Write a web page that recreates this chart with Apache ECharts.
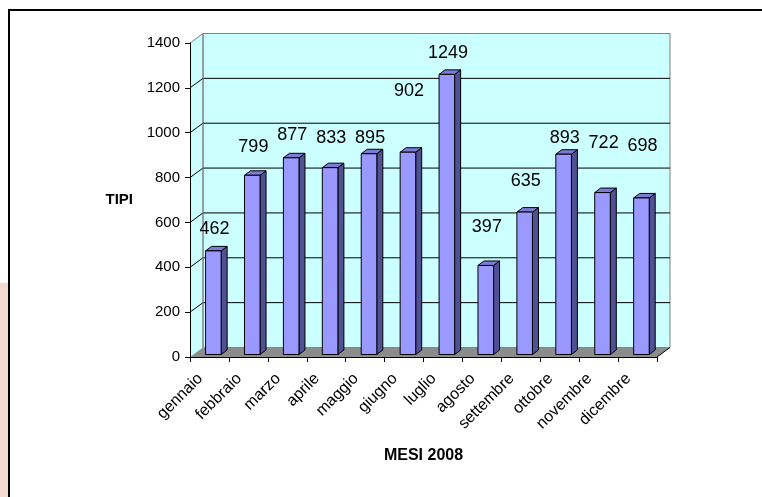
<!DOCTYPE html>
<html><head><meta charset="utf-8">
<script src="https://cdn.jsdelivr.net/npm/echarts@6/dist/echarts.min.js"></script>
<style>html,body{margin:0;padding:0;background:#fff;}#c{width:762px;height:497px;}</style>
</head><body>
<div id="c"></div>
<script>
const months = ['gennaio','febbraio','marzo','aprile','maggio','giugno','luglio','agosto','settembre','ottobre','novembre','dicembre'];
const values = [462,799,877,833,895,902,1249,397,635,893,722,698];
const yTicks = [0,200,400,600,800,1000,1200,1400];
const labelLift = [22,28,23,30,16,61,21,38,31,16,50,52];

const FONT = "'Liberation Sans', Arial, sans-serif";
const DX = 13, DY = -9.5;

const chart = echarts.init(document.getElementById('c'), null, {renderer:'canvas'});

function wallsItem(params, api){
  const cs = params.coordSys;
  const x0 = cs.x, y0 = cs.y, w = cs.width, h = cs.height;
  const ch = [];
  ch.push({type:'polygon', shape:{points:[[x0,y0+h],[x0,y0],[x0+DX,y0+DY],[x0+DX,y0+h+DY]]}, style:{fill:'#ccffff', stroke:null}});
  ch.push({type:'rect', shape:{x:x0+DX,y:y0+DY,width:w,height:h}, style:{fill:'#ccffff', stroke:'#808080', lineWidth:1}});
  yTicks.forEach(v=>{
    if (v===yTicks[0]) return;
    const y = api.coord([0,v])[1];
    const last = v===yTicks[yTicks.length-1];
    ch.push({type:'polyline', shape:{points:[[x0,y],[x0+DX,y+DY],[x0+DX+w,y+DY]]}, style:{stroke: last ? '#808080' : '#000', lineWidth:1, fill:null}});
  });
  ch.push({type:'line', shape:{x1:x0+DX,y1:y0+DY,x2:x0+DX,y2:y0+h+DY}, style:{stroke:'#808080', lineWidth:1}});
  ch.push({type:'polygon', shape:{points:[[x0,y0+h],[x0+DX,y0+h+DY],[x0+DX+w,y0+h+DY],[x0+w,y0+h]]}, style:{fill:'#8c8c8c', stroke:null}});
  ch.push({type:'line', shape:{x1:x0+w,y1:y0+h,x2:x0+w+DX,y2:y0+h+DY}, style:{stroke:'#000', lineWidth:1}});
  return {type:'group', children:ch};
}

function barItem(params, api){
  const i = api.value(0), v = api.value(1), lift = api.value(2);
  const base = api.coord([i,0]), top = api.coord([i,v]);
  const bw = api.size([1,0])[0];
  const cx = base[0] + bw*0.1, fw = bw*0.4;
  const by = base[1]-2.5, ty = top[1]-2.5;
  const L = cx-fw/2, R = cx+fw/2;
  const sdx = 6, sdy = -4.5;
  return {type:'group', children:[
    {type:'polygon', shape:{points:[[R,ty],[R+sdx,ty+sdy],[R+sdx,by+sdy],[R,by]]}, style:{fill:'#505094', stroke:'#000', lineWidth:1}},
    {type:'polygon', shape:{points:[[L,ty],[L+sdx,ty+sdy],[R+sdx,ty+sdy],[R,ty]]}, style:{fill:'#7c7cd6', stroke:'#000', lineWidth:1}},
    {type:'rect', shape:{x:L,y:ty,width:fw,height:by-ty}, style:{fill:'#9999ff', stroke:'#000', lineWidth:1}},
    {type:'text', style:{x:base[0]+5, y:ty-lift, text:String(v), font:'18px '+FONT, fill:'#000', align:'center', verticalAlign:'middle'}}
  ]};
}

chart.setOption({
  animation:false,
  backgroundColor:'#fff',
  grid:{left:190, top:43, right:105, bottom:140, containLabel:false},
  xAxis:{type:'category', data:months, z:5,
    axisLine:{lineStyle:{color:'#000', width:1}},
    axisTick:{show:true, length:5, alignWithLabel:false, lineStyle:{color:'#000'}},
    axisLabel:{interval:0, rotate:45, fontSize:16, fontFamily:FONT, color:'#000', margin:10, padding:[0,13,0,0]},
    splitLine:{show:false},
    name:'MESI 2008', nameLocation:'middle', nameGap:91,
    nameTextStyle:{fontSize:16, fontWeight:'bold', fontFamily:FONT, color:'#000'}
  },
  yAxis:{type:'value', min:0, max:1400, interval:200, z:5,
    axisLine:{show:true, lineStyle:{color:'#000', width:1}},
    axisTick:{show:true, length:5, lineStyle:{color:'#000'}},
    axisLabel:{fontSize:15, fontFamily:FONT, color:'#000', margin:10, formatter:v=>String(v)},
    splitLine:{show:false},
    name:'TIPI', nameLocation:'middle', nameRotate:0, nameGap:57,
    nameTextStyle:{fontSize:15, fontWeight:'bold', fontFamily:FONT, color:'#000'}
  },
  graphic:[
    {type:'rect', silent:true, shape:{x:0,y:283,width:8,height:214}, style:{fill:'#f3dbd3'}},
    {type:'line', silent:true, shape:{x1:9,y1:9,x2:9,y2:497}, style:{stroke:'#000', lineWidth:2}},
    {type:'line', silent:true, shape:{x1:8,y1:10,x2:762,y2:10}, style:{stroke:'#000', lineWidth:2}}
  ],
  series:[
    {type:'custom', renderItem:wallsItem, data:[[0,0]], z:1, silent:true},
    {type:'custom', renderItem:barItem, data:values.map((v,i)=>[i,v,labelLift[i]]), z:3, silent:true}
  ]
});
</script>
</body></html>
